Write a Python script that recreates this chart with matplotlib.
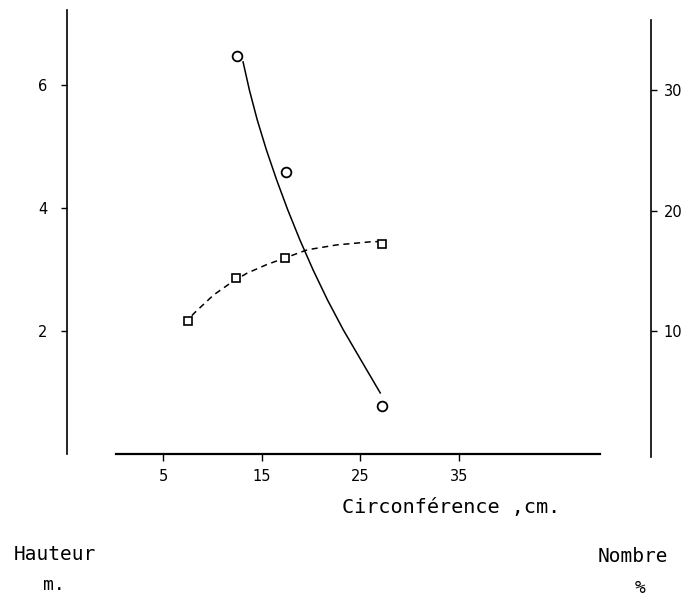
"""Hauteur et nombre (%) selon la circonference."""
import matplotlib
matplotlib.use("Agg")
import matplotlib.pyplot as plt

# Classes de circonference (cm)
circ = [7.5, 12.4, 17.4, 27.2]
# Hauteur moyenne (m), axe de gauche
hauteur = [2.16, 2.87, 3.18, 3.42]
# Nombre (%), axe de droite
circ_nombre = [12.5, 17.5, 27.2]
nombre = [32.9, 23.2, 3.8]

# Courbes tracees a la main
courbe_h_x = [7.9, 8.2, 10.1, 12.0, 13.5, 15.5, 17.4, 19.6, 22.6, 26.0, 26.9]
courbe_h_y = [2.25, 2.30, 2.585, 2.80, 2.94, 3.08, 3.19, 3.32, 3.40, 3.45, 3.455]
courbe_n_x = [13.10, 13.74, 14.54, 15.47, 16.51, 17.64, 18.87, 20.21, 21.67,
              23.28, 25.06, 27.02]
courbe_n_y = [32.37, 30.04, 27.55, 25.06, 22.57, 20.08, 17.59, 15.10, 12.61,
              10.12, 7.63, 4.90]

xticks = [5, 15, 25, 35]
yticks_left = [2, 4, 6]
yticks_right = [10, 20, 30]

W, H = 684, 597
fig = plt.figure(figsize=(W / 100, H / 100), dpi=100)
ax = fig.add_axes([67 / W, (H - 454) / H, (651 - 67) / W, (454 - 10) / H])
ax2 = ax.twinx()

ax.set_xlim(-4.77, 54.5)
ax.set_ylim(0, 7.22)
ax2.set_ylim(-0.17, 36.68)

# courbe hauteur (tirets) + carres
ax.plot(courbe_h_x, courbe_h_y, color="black", lw=1.1, ls=(0, (4, 3)))
ax.plot(circ, hauteur, ls="none", marker="s", ms=5.5, mfc="white",
        mec="black", mew=1.2)
# courbe nombre (trait plein) + cercles
ax2.plot(courbe_n_x, courbe_n_y, color="black", lw=1.1)
ax2.plot(circ_nombre, nombre, ls="none", marker="o", ms=7, mfc="white",
         mec="black", mew=1.3)

for a in (ax, ax2):
    a.spines["top"].set_visible(False)
ax.spines["right"].set_visible(False)
ax2.spines["left"].set_visible(False)
ax2.spines["bottom"].set_visible(False)
ax.spines["left"].set_linewidth(1.2)
ax2.spines["right"].set_linewidth(1.2)
ax2.spines["right"].set_bounds(-0.4, 35.85)
ax.spines["bottom"].set_linewidth(1.6)
ax.spines["bottom"].set_bounds(0.2, 49.3)

ax.set_xticks(xticks)
ax.set_yticks(yticks_left)
ax2.set_yticks(yticks_right)
ax.tick_params(axis="x", direction="out", length=5, width=1, pad=6, labelsize=10.5)
ax.tick_params(axis="y", direction="out", length=4, width=1, pad=10, labelsize=10.5)
ax2.tick_params(axis="y", direction="out", length=4, width=1, pad=5, labelsize=10.5)

mono = "DejaVu Sans Mono"
fig.text(451 / W, 1 - 507 / H, "Circonférence ,cm.", ha="center", va="center",
         fontsize=14.5, family=mono)
fig.text(55 / W, 1 - 555 / H, "Hauteur", ha="center", va="center",
         fontsize=14, family=mono)
fig.text(54 / W, 1 - 585 / H, "m.", ha="center", va="center",
         fontsize=13, family=mono)
fig.text(633 / W, 1 - 557 / H, "Nombre", ha="center", va="center",
         fontsize=14, family=mono)
fig.text(640 / W, 1 - 588 / H, "%", ha="center", va="center",
         fontsize=13, family=mono)

fig.savefig("out.png", dpi=100)
